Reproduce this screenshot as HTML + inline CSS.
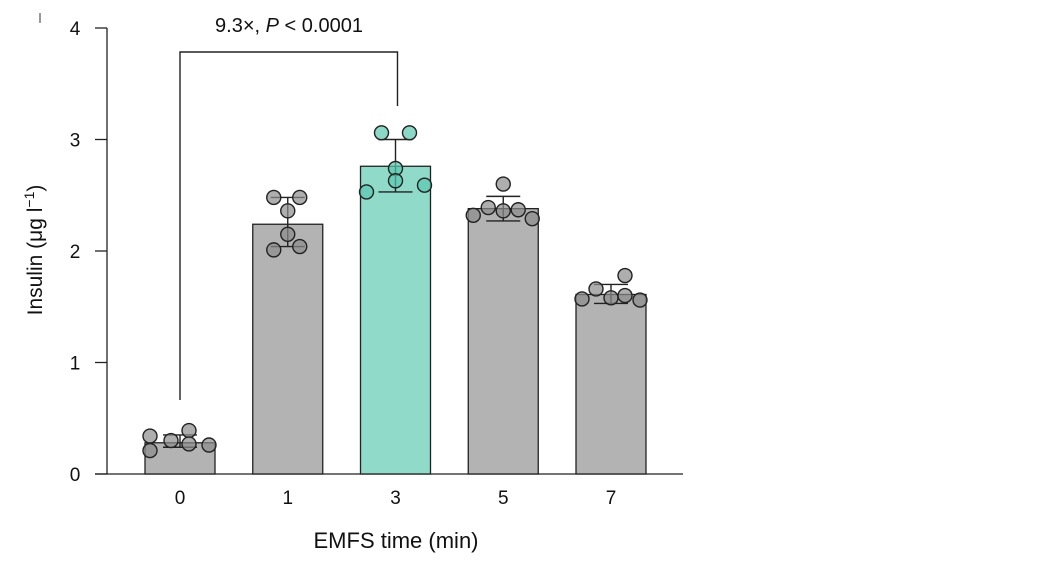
<!DOCTYPE html>
<html><head><meta charset="utf-8"><style>
body{margin:0;background:#fff}
svg{display:block;font-family:"Liberation Sans",sans-serif}
</style></head><body>
<svg id="chart" width="1040" height="562" viewBox="0 0 1040 562">
<line x1="40" y1="13" x2="40" y2="23" stroke="#333" stroke-width="1"/>
<g id="plot"></g>
<text x="289" y="32" font-size="20" text-anchor="middle" fill="#111">9.3×, <tspan font-style="italic">P</tspan> &lt; 0.0001</text>
<text transform="translate(42,250) rotate(-90)" font-size="21" text-anchor="middle" fill="#111">Insulin (μg l<tspan dy="-8" font-size="14">−1</tspan><tspan dy="8">)</tspan></text>
<text x="396" y="548" font-size="22" text-anchor="middle" fill="#111">EMFS time (min)</text>
</svg>
<script>
const categories = ["0","1","3","5","7"];
const means = [0.28, 2.24, 2.76, 2.38, 1.61];
const errLow = [0.24, 2.04, 2.53, 2.27, 1.53];
const errHigh = [0.35, 2.48, 3.00, 2.49, 1.70];
const points = [
 [0.34,0.30,0.39,0.21,0.27,0.26],
 [2.48,2.48,2.36,2.15,2.01,2.04],
 [3.06,3.06,2.74,2.63,2.53,2.59],
 [2.60,2.39,2.36,2.37,2.32,2.29],
 [1.78,1.66,1.58,1.60,1.57,1.56]
];
const jitter = [[-30,-9,9,-30,9,29],[-14,12,0,0,-14,12],[-14,14,0,0,-29,29],[0,-15,0,15,-30,29],[14,-15,0,14,-29,29]];
const yTicks = [0,1,2,3,4];
const highlight = 2;

const NS="http://www.w3.org/2000/svg";
const g=document.getElementById('plot');
const y0=474, unit=111.5;
const yS=v=>y0-v*unit;
const xS=i=>180+i*107.75;
function mk(tag,attrs){const e=document.createElementNS(NS,tag);for(const k in attrs)e.setAttribute(k,attrs[k]);g.appendChild(e);return e;}

let e=mk('line',{x1:107,y1:yS(4),x2:107,y2:y0,stroke:'#222','stroke-width':1.3});


e=mk('line',{x1:95,y1:y0,x2:683,y2:y0,stroke:'#222','stroke-width':1.3});


yTicks.forEach(t=>{
 e=mk('line',{x1:95,y1:yS(t),x2:107,y2:yS(t),stroke:'#222','stroke-width':1.3});
 
 
 e=mk('text',{x:75,y:yS(t)+7,'font-size':19,'text-anchor':'middle',fill:'#111'});
 e.textContent=t;
 
 
});
categories.forEach((c,i)=>{
 const cx=xS(i), hl=i===highlight;
 e=mk('rect',{x:cx-35,y:yS(means[i]),width:70,height:y0-yS(means[i]),fill:hl?'#8fdac8':'#b3b3b3',stroke:'#222','stroke-width':1.3});
 
 
 e=mk('text',{x:cx,y:504,'font-size':19,'text-anchor':'middle',fill:'#111'});
 e.textContent=c;
 
 
 e=mk('path',{d:`M${cx},${yS(errLow[i])}V${yS(errHigh[i])}M${cx-17},${yS(errHigh[i])}H${cx+17}M${cx-17},${yS(errLow[i])}H${cx+17}`,stroke:'#222','stroke-width':1.4,fill:'none'});
 
 
 points[i].forEach((v,j)=>{
  e=mk('circle',{cx:cx+jitter[i][j],cy:yS(v),r:7,fill:hl?'rgba(90,200,175,0.7)':'rgba(140,140,140,0.7)',stroke:'#222','stroke-width':1.4});
  
  
 });
});
e=mk('path',{d:`M${xS(0)},400V52H${xS(2)+2}V106`,stroke:'#222','stroke-width':1.4,fill:'none'});


</script>
</body></html>
